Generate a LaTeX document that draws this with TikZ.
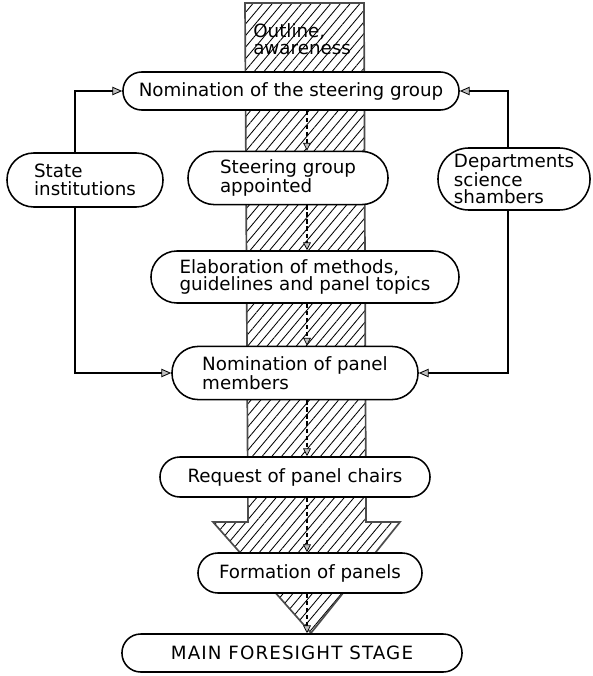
\documentclass[tikz,border=0pt]{standalone}
\usepackage{fontspec}
\setmainfont{DejaVu Sans}
\usetikzlibrary{arrows.meta,positioning,patterns.meta}

\begin{document}
\begin{tikzpicture}[x=0.025cm,y=-0.025cm,font=\fontsize{13}{12.5}\selectfont,
  stage/.style={draw,fill=white,line width=1.1pt,align=left,inner xsep=0pt,rounded corners=#1},stage/.default=0.47cm,
  feed/.style={line width=1.1pt,-{Triangle[length=7pt,width=6pt,fill=gray!50,line width=0.6pt]}},
  flow/.style={line width=0.8pt,densely dashed,-{Triangle[length=5.5pt,width=5.5pt,fill=gray!50,line width=0.5pt]}}]
\useasboundingbox (0,0) rectangle (592,676);
% hatched trunk
\draw[gray!60!black,line width=1.2pt,pattern={Lines[angle=50,distance=5.3pt,line width=0.6pt]}] (245,3) -- (364,3) -- (366,522) -- (400,522) -- (311,633) -- (213,522) -- (248,522) -- cycle;
\node[anchor=west,align=left,inner sep=0pt] (outl) at (253,39) {Outline,\\awareness};
\node[stage,minimum width=8.4cm,minimum height=0.95cm] (nomsg) at (291,91) {Nomination of the steering group};
\node[stage=0.67cm,minimum width=3.9cm,minimum height=1.35cm] (state) at (85,180) {State\\institutions};
\node[stage=0.66cm,minimum width=5cm,minimum height=1.33cm] (appt) at (288,178) {Steering group\\appointed};
\node[stage=0.77cm,minimum width=3.8cm,minimum height=1.55cm] (dept) at (514,179) {Departments\\science\\shambers};
\node[stage=0.65cm,minimum width=7.7cm,minimum height=1.3cm] (elab) at (305,277) {Elaboration of methods,\\guidelines and panel topics};
\node[stage=0.66cm,minimum width=6.15cm,minimum height=1.33cm] (members) at (295,373) {Nomination of panel\\members};
\node[stage=0.5cm,minimum width=6.75cm,minimum height=1cm] (req) at (295,477) {Request of panel chairs};
\node[stage=0.5cm,minimum width=5.6cm,minimum height=1cm] (form) at (310,573) {Formation of panels};
\node[stage,minimum width=8.5cm,minimum height=0.95cm] (main) at (292,653) {\addfontfeature{LetterSpace=6}MAIN FORESIGHT STAGE};
\coordinate (lx) at (75,0); \coordinate (rx) at (508,0); \coordinate (ax) at (307,0);
\draw[feed] (state.north -| lx) |- (nomsg.west);
\draw[feed] (state.south -| lx) |- (members.west);
\draw[feed] (dept.north -| rx) |- (nomsg.east);
\draw[feed] (dept.south -| rx) |- (members.east);
\foreach \a/\b in {nomsg/appt,appt/elab,elab/members,members/req,req/form,form/main}
  \draw[flow] (\a.south -| ax) -- (\b.north -| ax);
\end{tikzpicture}
\end{document}
